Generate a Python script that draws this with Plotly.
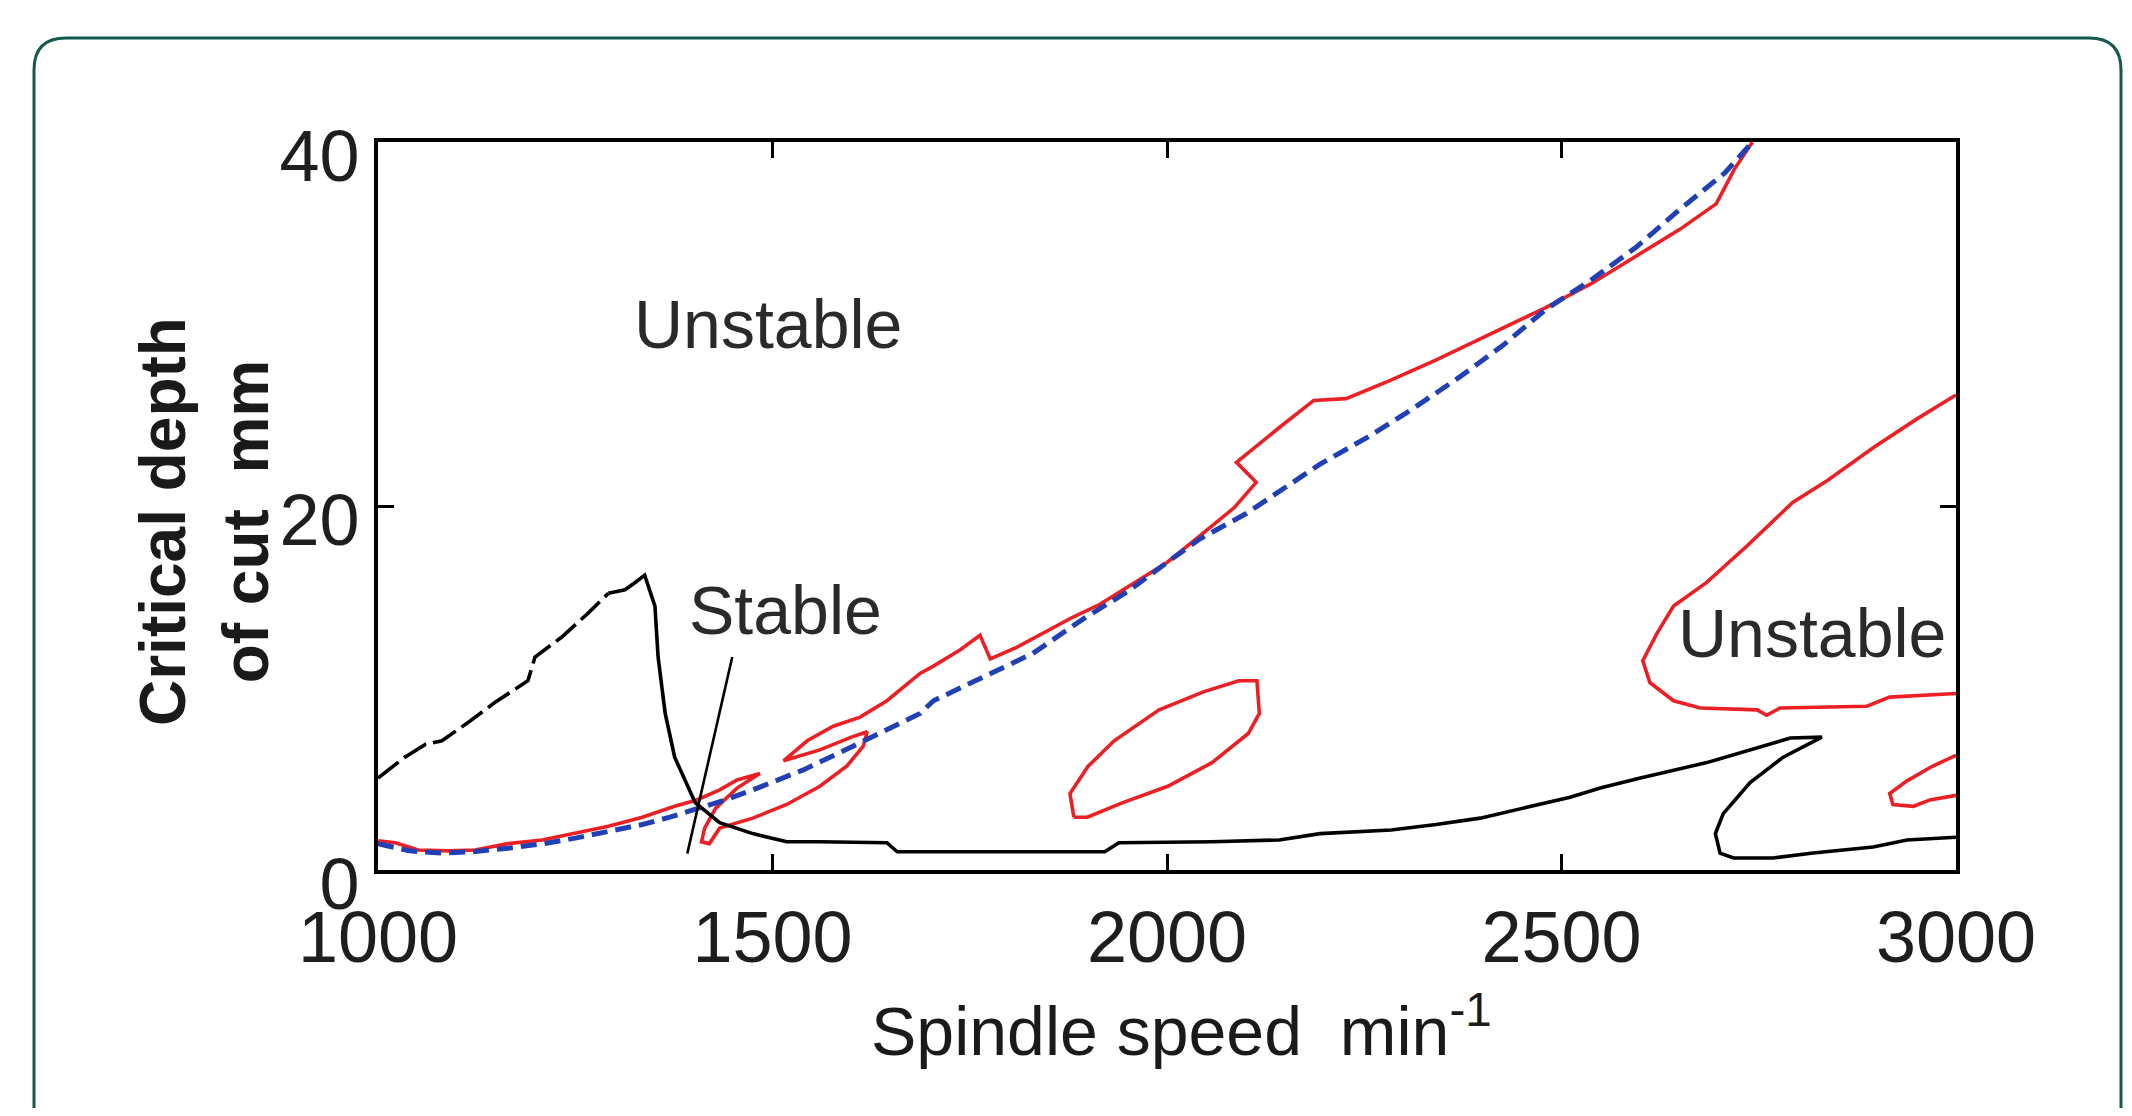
import plotly.graph_objects as go

# ---------------- data ----------------
blue_x = [1000, 1040, 1080, 1120, 1165, 1210, 1250, 1292, 1335, 1370, 1404, 1440, 1475, 1539,
          1602, 1650, 1687, 1704, 1767, 1830, 1894, 1950, 2000, 2042, 2101, 2143, 2194, 2255,
          2310, 2368, 2425, 2480, 2537, 2594, 2650, 2707, 2742]
blue_y = [1.45, 1.05, 0.93, 1.0, 1.2, 1.45, 1.75, 2.1, 2.5, 2.9, 3.35, 3.85, 4.4, 5.5,
          6.8, 7.8, 8.6, 9.3, 10.6, 11.9, 13.8, 15.3, 16.9, 18.2, 19.6, 20.8, 22.3, 23.8,
          25.3, 27.0, 28.8, 30.8, 32.4, 34.2, 36.3, 38.3, 40.0]

red_main_x = [1000, 1022, 1051, 1090, 1123, 1165, 1208, 1250, 1292, 1335, 1376, 1404, 1433, 1455,
              1484, 1455, 1428, 1414, 1410, 1420, 1433, 1475, 1518, 1560, 1594, 1615, 1620, 1600,
              1560, 1514, 1544, 1577, 1611, 1645, 1687, 1704, 1738, 1763, 1776, 1810, 1852, 1881,
              1915, 1960, 2000, 2040, 2085, 2113, 2088, 2142, 2186, 2227, 2283, 2340, 2413, 2480,
              2537, 2583, 2650, 2696, 2719, 2742]
red_main_y = [1.6, 1.5, 1.1, 1.05, 1.1, 1.45, 1.65, 2.0, 2.4, 2.9, 3.5, 3.85, 4.4, 4.95,
              5.3, 4.5, 3.4, 2.3, 1.55, 1.45, 2.3, 2.85, 3.6, 4.6, 5.7, 6.8, 7.6, 7.3,
              6.6, 6.0, 7.1, 7.9, 8.4, 9.3, 10.8, 11.2, 12.1, 12.9, 11.6, 12.25, 13.2, 13.9,
              14.6, 15.8, 16.9, 18.3, 19.9, 21.3, 22.4, 24.3, 25.8, 25.9, 26.9, 28.0, 29.5, 30.9,
              32.2, 33.4, 35.2, 36.6, 38.5, 40.0]

red_island_x = [1882, 1877, 1900, 1933, 1990, 2047, 2091, 2114, 2117, 2103, 2057, 2001, 1944, 1899, 1882]
red_island_y = [2.9, 4.2, 5.7, 7.1, 8.8, 9.8, 10.4, 10.4, 8.6, 7.5, 5.9, 4.6, 3.7, 2.9, 2.9]

red_right_x = [3000, 2951, 2895, 2837, 2793, 2735, 2684, 2642, 2621, 2603, 2612, 2642, 2676,
               2748, 2760, 2777, 2887, 2916, 3000]
red_right_y = [26.1, 24.8, 23.2, 21.4, 20.2, 17.8, 15.8, 14.5, 13.0, 11.5, 10.3, 9.3, 8.9,
               8.8, 8.5, 8.9, 9.0, 9.5, 9.7]

red_corner_x = [3000, 2970, 2938, 2916, 2920, 2946, 2967, 3000]
red_corner_y = [6.3, 5.7, 4.9, 4.2, 3.6, 3.5, 3.85, 4.1]

# black boundary: rising (broken-looking) part, then the solid remainder
black_rise_x = [1000, 1034, 1060, 1081, 1114, 1148, 1190, 1199, 1233, 1266, 1292]
black_rise_y = [5.05, 6.2, 6.9, 7.1, 8.1, 9.2, 10.4, 11.7, 12.8, 14.1, 15.2]
black_x = [1292, 1313, 1326, 1338,
           1351, 1355, 1364, 1376, 1402, 1433, 1475, 1518, 1560, 1645, 1658, 1921, 1939, 2057,
           2142, 2194, 2284, 2341, 2397, 2454, 2511, 2549, 2600, 2684, 2748, 2790, 2830, 2781,
           2739, 2705, 2695, 2701, 2718, 2768, 2819, 2895, 2938, 3000]
black_y = [15.2, 15.4, 15.8, 16.2,
           14.5, 11.7, 8.6, 6.2, 3.7, 2.6, 2.0, 1.55, 1.55, 1.5, 1.0, 1.0, 1.5, 1.55,
           1.65, 2.0, 2.2, 2.5, 2.85, 3.4, 4.0, 4.5, 5.05, 5.9, 6.7, 7.25, 7.3, 6.2,
           4.8, 3.1, 2.0, 0.93, 0.66, 0.66, 0.93, 1.26, 1.65, 1.8]

pointer_x = [1449, 1392]
pointer_y = [11.7, 0.9]

x_ticks = [1000, 1500, 2000, 2500, 3000]
y_ticks = [0, 20, 40]

labels = ["Unstable", "Stable", "Unstable"]
label_x = [1494, 1517, 2817]
label_y = [30.0, 14.3, 13.0]

x_title = "Spindle speed\u00a0\u00a0min<sup>-1</sup>"
y_title = "Critical depth<br>of cut\u00a0\u00a0mm"

# ---------------- layout geometry ----------------
W, H = 2116, 1100          # page body has an 8px margin
OFF = 8
PL, PR, PT, PB = 378, 1956, 142, 870   # plot area in screen pixels
ML, MR, MT, MB = PL - OFF, W - (PR - OFF), PT - OFF, H - (PB - OFF)


def paper_x(sx):
    return (sx - OFF - ML) / (W - ML - MR)


def paper_y(sy):
    return (H - MB - (sy - OFF)) / (H - MT - MB)


FONT = "Liberation Sans, Arial, sans-serif"
RED = "rgb(236,32,36)"
BLUE = "rgb(34,64,182)"

fig = go.Figure()
for xs, ys in [(red_main_x, red_main_y), (red_island_x, red_island_y),
               (red_right_x, red_right_y), (red_corner_x, red_corner_y)]:
    fig.add_trace(go.Scatter(x=xs, y=ys, mode="lines",
                             line=dict(color=RED, width=3.6), showlegend=False))
fig.add_trace(go.Scatter(x=blue_x, y=blue_y, mode="lines",
                         line=dict(color=BLUE, width=5, dash="16px,8px"), showlegend=False))
fig.add_trace(go.Scatter(x=black_rise_x, y=black_rise_y, mode="lines",
                         line=dict(color="black", width=3.6, dash="26px,7px"), showlegend=False))
fig.add_trace(go.Scatter(x=black_x, y=black_y, mode="lines",
                         line=dict(color="black", width=3.6), showlegend=False))
fig.add_trace(go.Scatter(x=pointer_x, y=pointer_y, mode="lines",
                         line=dict(color="black", width=2.6), showlegend=False))

for t, lx, ly in zip(labels, label_x, label_y):
    fig.add_annotation(x=lx, y=ly, xref="x", yref="y", text=t, showarrow=False,
                       xanchor="center", yanchor="middle",
                       font=dict(family=FONT, size=68, color="#2a2a2a"))

# axis titles
fig.add_annotation(x=paper_x(1181), y=paper_y(1026), xref="paper", yref="paper",
                   text=x_title, showarrow=False, xanchor="center", yanchor="middle",
                   font=dict(family=FONT, size=68, color="#1a1a1a"))
fig.add_annotation(x=paper_x(204), y=paper_y(522), xref="paper", yref="paper",
                   text=y_title, showarrow=False, xanchor="center", yanchor="middle",
                   textangle=-90,
                   font=dict(family=FONT, size=64, color="#1a1a1a", weight="bold"))

# card border
L, T, R, B, RAD = 34, 38, 2121, 1140, 32
card = (f"M {paper_x(L)},{paper_y(B)} L {paper_x(L)},{paper_y(T + RAD)} "
        f"Q {paper_x(L)},{paper_y(T)} {paper_x(L + RAD)},{paper_y(T)} "
        f"L {paper_x(R - RAD)},{paper_y(T)} "
        f"Q {paper_x(R)},{paper_y(T)} {paper_x(R)},{paper_y(T + RAD)} "
        f"L {paper_x(R)},{paper_y(B)}")
fig.add_shape(type="path", path=card, xref="paper", yref="paper",
              line=dict(color="#14584e", width=3), layer="below")

axis_common = dict(showgrid=False, zeroline=False, showline=True, linecolor="black",
                   linewidth=4, mirror="ticks", ticks="inside", ticklen=16, tickwidth=3,
                   tickcolor="black",
                   tickfont=dict(family=FONT, size=72, color="#1e1e1e"))

fig.update_layout(
    width=W, height=H,
    margin=dict(l=ML, r=MR, t=MT, b=MB, pad=0),
    paper_bgcolor="white", plot_bgcolor="white",
    xaxis=dict(range=[1000, 3000], tickvals=x_ticks, ticktext=[str(v) for v in x_ticks],
               ticklabelstandoff=2, **axis_common),
    yaxis=dict(range=[0, 40], tickvals=y_ticks, ticktext=[str(v) for v in y_ticks],
               ticklabelstandoff=0, ticklabelshift=14, **axis_common),
)

fig.write_html("out.html")
